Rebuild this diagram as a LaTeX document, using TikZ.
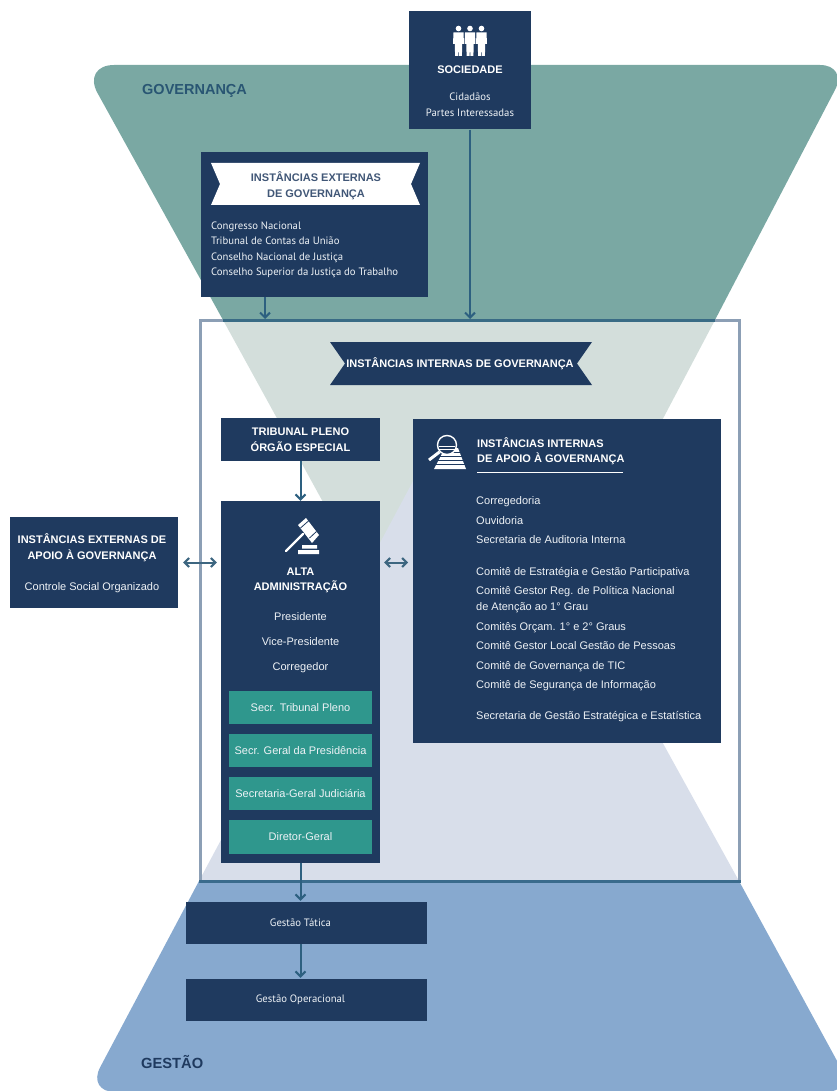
\documentclass[tikz,border=0pt]{standalone}
\usepackage{fontspec}
\setmainfont{Liberation Sans}
\newfontfamily\condfont{PT Sans}
\usetikzlibrary{arrows.meta}
\definecolor{navy}{HTML}{1F3A5F}
\definecolor{tealbox}{HTML}{2F978D}
\definecolor{greenfun}{HTML}{7AA8A3}
\definecolor{grayfun}{HTML}{D3DEDB}
\definecolor{lavfun}{HTML}{D8DEEA}
\definecolor{bluefun}{HTML}{87A9CF}
\definecolor{framecol}{HTML}{8C9FB5}
\definecolor{arrowcol}{HTML}{2D6080}
\definecolor{paletxt}{HTML}{EEF2F6}
\tikzset{
  navybox/.style={fill=navy,inner sep=0pt,text=white,align=center,font=\fontsize{11}{15.5}\selectfont\bfseries},
  secbox/.style={fill=tealbox,inner sep=0pt,minimum width=143,minimum height=33.5,text=paletxt,font=\fontsize{11}{12}\selectfont},
  lbl/.style={inner sep=0pt,text=paletxt,font=\fontsize{11}{12}\selectfont},
  cond/.style={inner sep=0pt,text=paletxt,font=\fontsize{10.7}{15.5}\selectfont\condfont},
  head/.style={inner sep=0pt,text=white,align=center,font=\fontsize{11}{15.5}\selectfont\bfseries},
  arr/.style={draw=arrowcol,line width=2,-{Straight Barb[length=5,width=10]}},
  twoway/.style={draw=arrowcol!80!gray,line width=2,{Straight Barb[length=4.5,width=9]}-{Straight Barb[length=4.5,width=9]}}
}
\begin{document}
\begin{tikzpicture}[x=1pt,y=-1pt]
        \useasboundingbox (0,0) rectangle (836,1091);
        \fill[grayfun] (223,320) -- (715,320) -- (474,777) -- cycle;
        \fill[lavfun] (419,470) -- (512,470) -- (739,881) -- (199,881) -- cycle;
        \fill[greenfun] (223,320) [rounded corners=32] -- (82,65) [rounded corners=28] -- (848,65) [sharp corners] -- (715,320) -- cycle;
        \fill[bluefun] (199,881) [rounded corners=28] -- (87,1092) -- (854,1092) [sharp corners] -- (739,881) -- cycle;
        \node[draw=framecol,line width=3,minimum width=538.5,minimum height=560.5,inner sep=0pt] (frame) at (469.75,600.75) {};
        \draw[line width=3,color=arrowcol!85!greenfun] (223,320.5) -- (715,320.5);
        \draw[line width=3,color=arrowcol!85!bluefun] (199,881) -- (740.5,881);
        \node[text=arrowcol!90!black,inner sep=0pt,font=\fontsize{14.5}{16}\selectfont\bfseries,anchor=base west] (govlabel) at (142,95) {GOVERNANÇA};
        \node[text=navy,inner sep=0pt,font=\fontsize{14.7}{16}\selectfont\bfseries,anchor=base west] (gestlabel) at (141,1068) {GESTÃO};
        \node[navybox,minimum width=122,minimum height=118.5] (soc) at (470,70.25) {};
        \node[head] (soctitle) at (470,70) {SOCIEDADE};
        \node[cond,align=center] (socnames) at (470,104.5) {Cidadãos\\Partes Interessadas};
        \foreach \px in {458.5,470,481.5} {
          \fill[white] (\px,28.5) circle (2.8);
          \fill[white] (\px-5,32.5) -- (\px+5,32.5) -- (\px+5.5,44) -- (\px+3.7,44) -- (\px+3.4,56) -- (\px+.4,56) -- (\px,46) -- (\px-.4,56) -- (\px-3.4,56) -- (\px-3.7,44) -- (\px-5.5,44) -- cycle;
        }
        \node[navybox,minimum width=227.5,minimum height=145] (ext) at (314.5,224.5) {};
        \fill[white] (211,163) -- (420,163) -- (411,184) -- (420,205) -- (211,205) -- (220,184) -- cycle;
        \node[head,text=navy!85!white] (exttitle) at (316,185.5) {INSTÂNCIAS EXTERNAS\\DE GOVERNANÇA};
        \node[cond,align=left,anchor=north west] (extnames) at (211,221.5) {Congresso Nacional\\Tribunal de Contas da União\\Conselho Nacional de Justiça\\Conselho Superior da Justiça do Trabalho};
        \fill[navy] (330,342) -- (592,342) -- (577,363.5) -- (592,385) -- (330,385) -- (345,363.5) -- cycle;
        \node[head] (inttitle) at (460,364) {INSTÂNCIAS INTERNAS DE GOVERNANÇA};
        \node[navybox,minimum width=159,minimum height=43] (pleno) at (300.5,439.5) {TRIBUNAL PLENO\\ÓRGÃO ESPECIAL};
        \node[navybox,minimum width=159,minimum height=362] (alta) at (300.5,682) {};
        \node[head] (altatitle) at (300.5,580.5) {ALTA\\ADMINISTRAÇÃO};
        \node[lbl] (pres) at (300.5,617) {Presidente};
        \node[lbl] (vice) at (300.5,642) {Vice-Presidente};
        \node[lbl] (corr) at (300.5,668) {Corregedor};
        \node[secbox] (sec1) at (300.5,707.5) {Secr. Tribunal Pleno};
        \node[secbox] (sec2) at (300.5,750.5) {Secr. Geral da Presidência};
        \node[secbox] (sec3) at (300.5,793.5) {Secretaria-Geral Judiciária};
        \node[secbox] (sec4) at (300.5,837) {Diretor-Geral};
        \fill[white] (298,525) -- (306,518) -- (319,535) -- (312,543) -- cycle;
        \draw[navy,line width=.8] (300.5,528) -- (309,520.5) (309.5,538) -- (316.5,531.5);
        \draw[white,line width=2.4,line cap=round] (303,534) -- (286,551);
        \fill[white] (302,545) rectangle (317,548.5) (298,550) rectangle (319,554);
        \node[navybox,minimum width=168,minimum height=91] (apoioext) at (94,562.5) {};
        \node[head] (apoioexttitle) at (92,547.5) {INSTÂNCIAS EXTERNAS DE\\APOIO À GOVERNANÇA};
        \node[lbl] (controle) at (92,588) {Controle Social Organizado};
        \node[navybox,minimum width=308,minimum height=324,anchor=north west] (apoioint) at (413,419) {};
        \fill[white] (445,448) -- (458,448) -- (466,469) -- (434,469) -- cycle;
        \foreach \sy in {452.5,456.5,460.5,464.5} {
          \draw[navy,line width=.7] (432,\sy) -- (468,\sy);
        }
        \draw[white,line width=1.4,fill=navy] (447,445) circle (9.5);
        \draw[white,line width=.8] (439,446) -- (455,446) (438.5,449.5) -- (455.5,449.5);
        \draw[white,line width=3] (439.5,452) -- (429,460);
        \node[head,align=left,anchor=north west] (apoiointtitle) at (477,437) {INSTÂNCIAS INTERNAS\\DE APOIO À GOVERNANÇA};
        \draw[white,line width=1] (477,472.5) -- (623,472.5);
        \foreach \ly/\lt in {504/Corregedoria,524/Ouvidoria,543/Secretaria de Auditoria Interna,575/Comitê de Estratégia e Gestão Participativa,594/Comitê Gestor Reg. de Política Nacional,610/de Atenção ao 1° Grau,630/Comitês Orçam. 1° e 2° Graus,649/Comitê Gestor Local Gestão de Pessoas,669/Comitê de Governança de TIC,688/Comitê de Segurança de Informação,719/Secretaria de Gestão Estratégica e Estatística} {
          \node[lbl,anchor=base west] (line\ly) at (476,\ly) {\lt};
        }
        \node[navybox,minimum width=241,minimum height=42] (tatica) at (306.5,923) {};
        \node[cond] (taticatext) at (300.5,923) {Gestão Tática};
        \node[navybox,minimum width=241,minimum height=42] (oper) at (306.5,1000) {};
        \node[cond] (opertext) at (300.5,1000) {Gestão Operacional};
        \draw[arr] (soc.south) -- (soc.south |- frame.north);
        \draw[arr] ([xshift=-49.5]ext.south) -- ([xshift=-49.5]ext.south |- frame.north);
        \draw[arr] (pleno.south) -- (alta.north);
        \draw[arr,shorten >=1] (alta.south) -- (alta.south |- tatica.north);
        \draw[arr,shorten >=1] (alta.south |- tatica.south) -- (alta.south |- oper.north);
        \draw[twoway,shorten <=5,shorten >=4] (apoioext.east) -- (apoioext.east -| alta.west);
        \draw[twoway,shorten <=4,shorten >=5] (apoioext.east -| alta.east) -- (apoioext.east -| apoioint.west);
      \end{tikzpicture}
\end{document}
